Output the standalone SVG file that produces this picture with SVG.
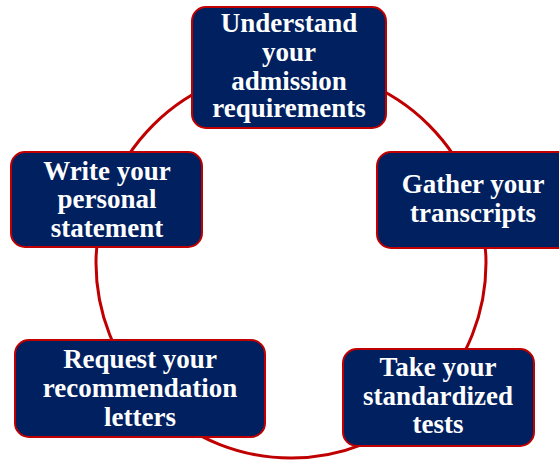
<svg xmlns="http://www.w3.org/2000/svg" width="559" height="460" viewBox="0 0 559 460">
<style>
.box{fill:#002060;stroke:#C00000;stroke-width:2}
.lbl{fill:#fff;font-family:"Liberation Serif","Times New Roman",serif;font-weight:bold;font-size:27px;text-anchor:middle}
.ring{fill:none;stroke:#C00000;stroke-width:3}
</style>
<rect width="559" height="460" fill="#fff"/>
<g id="connectors">
<circle class="ring" cx="291" cy="263" r="195"/>
</g>
<g id="node1">
<rect class="box" x="192" y="7" width="194" height="121" rx="14"/>
<text class="lbl"><tspan x="289" y="32">Understand</tspan><tspan x="289" y="61">your</tspan><tspan x="289" y="90">admission</tspan><tspan x="289" y="117">requirements</tspan></text>
</g>
<g id="node2">
<rect class="box" x="377" y="152" width="194" height="96" rx="14"/>
<text class="lbl"><tspan x="473" y="193">Gather your</tspan><tspan x="473" y="222">transcripts</tspan></text>
</g>
<g id="node3">
<rect class="box" x="11" y="152" width="191" height="95" rx="14"/>
<text class="lbl"><tspan x="107" y="180">Write your</tspan><tspan x="107" y="208">personal</tspan><tspan x="107" y="237">statement</tspan></text>
</g>
<g id="node4">
<rect class="box" x="15" y="340" width="250" height="97" rx="14"/>
<text class="lbl"><tspan x="140" y="368">Request your</tspan><tspan x="140" y="397">recommendation</tspan><tspan x="140" y="426">letters</tspan></text>
</g>
<g id="node5">
<rect class="box" x="343" y="349" width="191" height="97" rx="14"/>
<text class="lbl"><tspan x="438" y="376">Take your</tspan><tspan x="438" y="405">standardized</tspan><tspan x="438" y="433">tests</tspan></text>
</g>
</svg>
